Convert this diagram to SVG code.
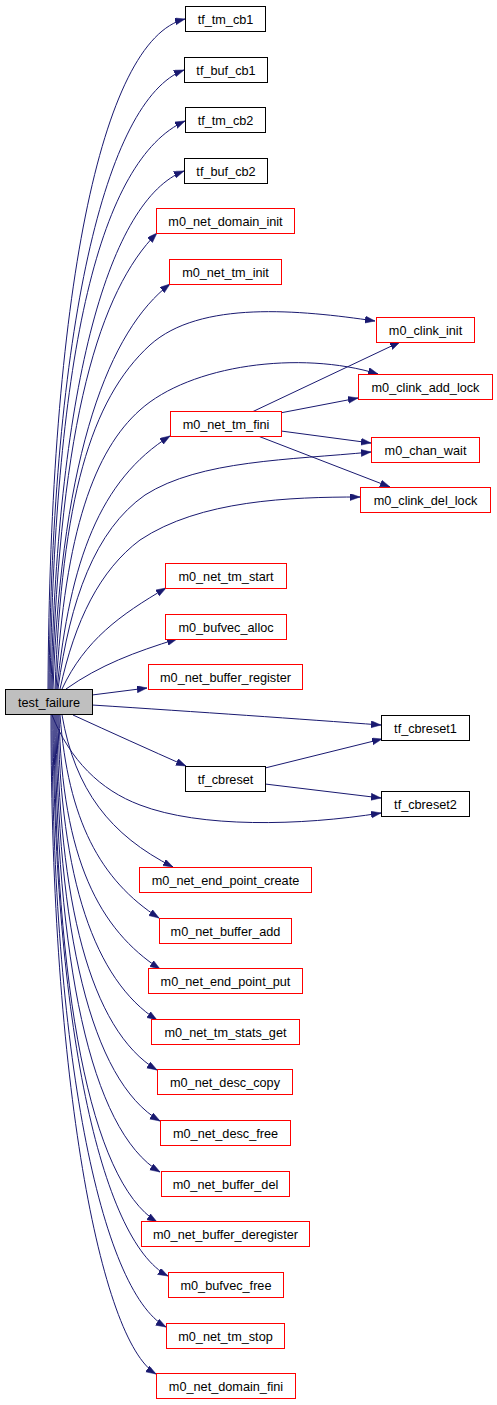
<svg xmlns="http://www.w3.org/2000/svg" width="497" height="1405" viewBox="0 0 497 1405">
<style>
.n rect{stroke-width:1}
.b rect{fill:#fff;stroke:#000}
.r rect{fill:#fff;stroke:#ff0000}
.g rect{fill:#bfbfbf;stroke:#000}
text{font-family:"Liberation Sans",Arial,sans-serif;font-size:12.7px;text-anchor:middle;fill:#000}
#edges path{fill:none;stroke:#191970;stroke-width:1;marker-end:url(#ah)}
</style>
<defs>
<marker id="ah" markerUnits="userSpaceOnUse" markerWidth="11" markerHeight="8" refX="10" refY="3.5" orient="auto">
<path d="M0,0 L10,3.5 L0,7 z" fill="#191970" stroke="#191970" stroke-width="0.5"/>
</marker>
</defs>
<rect width="497" height="1405" fill="#fff"/>
<g id="edges">
<path d="M48,689 C50,300 100,40 185,19"/>
<path d="M49,689 C52,330 105,100 184,70"/>
<path d="M50,689 C55,350 100,160 185,121"/>
<path d="M51,689 C58,380 110,200 184,171"/>
<path d="M52,689 C60,420 100,290 157,233"/>
<path d="M53,689 C62,450 110,330 170,284"/>
<path d="M55,689 C62,500 90,400 150,345 C200,300 300,310 375,321"/>
<path d="M56,689 C65,530 95,450 140,410 C190,365 300,350 378,374"/>
<path d="M57,689 C70,560 100,480 170,436"/>
<path d="M58,689 C70,600 95,530 145,495 C200,460 290,460 371,452"/>
<path d="M60,689 C75,620 100,570 140,540 C200,500 290,497 360,497"/>
<path d="M62,689 C85,640 120,615 166,588"/>
<path d="M66,689 C100,665 135,652 177,639"/>
<path d="M92,695 L147,688"/>
<path d="M92,705 C200,712 300,719 381,725"/>
<path d="M73,715 C110,732 150,750 186,766"/>
<path d="M52,715 C70,760 100,790 140,805 C200,828 300,826 381,813"/>
<path d="M62,715 C75,790 110,835 173,867"/>
<path d="M60,715 C68,820 100,880 159,918"/>
<path d="M59,715 C62,860 100,930 160,969"/>
<path d="M58,715 C60,880 95,980 157,1020"/>
<path d="M57,715 C58,900 90,1030 157,1070"/>
<path d="M56,715 C57,930 90,1080 160,1121"/>
<path d="M55,715 C56,960 90,1130 160,1172"/>
<path d="M54,715 C55,990 90,1180 157,1222"/>
<path d="M53,715 C54,1020 100,1240 168,1276"/>
<path d="M52,715 C52,1050 100,1290 166,1327"/>
<path d="M51,715 C51,1080 100,1340 156,1374"/>
<path d="M252,412 L400,342"/>
<path d="M280,413 L358,398"/>
<path d="M281,431 L371,443"/>
<path d="M258,436 L390,487"/>
<path d="M265,768 L382,739"/>
<path d="M265,784 L381,798"/>
</g>
<g id="tf_tm_cb1" class="n b"><rect x="185.5" y="6.5" width="80" height="25"/><text x="225.5" y="23.5">tf_tm_cb1</text></g>
<g id="tf_buf_cb1" class="n b"><rect x="184.5" y="57.5" width="83" height="25"/><text x="226" y="74.5">tf_buf_cb1</text></g>
<g id="tf_tm_cb2" class="n b"><rect x="185.5" y="107.5" width="80" height="25"/><text x="225.5" y="124.5">tf_tm_cb2</text></g>
<g id="tf_buf_cb2" class="n b"><rect x="184.5" y="158.5" width="83" height="25"/><text x="226" y="175.5">tf_buf_cb2</text></g>
<g id="m0_net_domain_init" class="n r"><rect x="156.5" y="208.5" width="138" height="25"/><text x="225.5" y="225.5">m0_net_domain_init</text></g>
<g id="m0_net_tm_init" class="n r"><rect x="169.5" y="259.5" width="112" height="25"/><text x="225.5" y="276.5">m0_net_tm_init</text></g>
<g id="m0_clink_init" class="n r"><rect x="376.5" y="317.5" width="98" height="25"/><text x="425.5" y="334.5">m0_clink_init</text></g>
<g id="m0_clink_add_lock" class="n r"><rect x="358.5" y="374.5" width="134" height="25"/><text x="425.5" y="391.5">m0_clink_add_lock</text></g>
<g id="m0_net_tm_fini" class="n r"><rect x="170.5" y="411.5" width="111" height="25"/><text x="226" y="428.5">m0_net_tm_fini</text></g>
<g id="m0_chan_wait" class="n r"><rect x="371.5" y="437.5" width="108" height="25"/><text x="425.5" y="454.5">m0_chan_wait</text></g>
<g id="m0_clink_del_lock" class="n r"><rect x="360.5" y="487.5" width="130" height="25"/><text x="425.5" y="504.5">m0_clink_del_lock</text></g>
<g id="m0_net_tm_start" class="n r"><rect x="165.5" y="563.5" width="121" height="25"/><text x="226" y="580.5">m0_net_tm_start</text></g>
<g id="m0_bufvec_alloc" class="n r"><rect x="165.5" y="614.5" width="121" height="25"/><text x="226" y="631.5">m0_bufvec_alloc</text></g>
<g id="m0_net_buffer_register" class="n r"><rect x="148.5" y="664.5" width="154" height="25"/><text x="225.5" y="681.5">m0_net_buffer_register</text></g>
<g id="test_failure" class="n g"><rect x="5.5" y="689.5" width="87" height="25"/><text x="49" y="706.5">test_failure</text></g>
<g id="tf_cbreset1" class="n b"><rect x="381.5" y="715.5" width="88" height="25"/><text x="425.5" y="732.5">tf_cbreset1</text></g>
<g id="tf_cbreset" class="n b"><rect x="185.5" y="766.5" width="80" height="25"/><text x="225.5" y="783.5">tf_cbreset</text></g>
<g id="tf_cbreset2" class="n b"><rect x="381.5" y="791.5" width="88" height="25"/><text x="425.5" y="808.5">tf_cbreset2</text></g>
<g id="m0_net_end_point_create" class="n r"><rect x="139.5" y="867.5" width="172" height="25"/><text x="225.5" y="884.5">m0_net_end_point_create</text></g>
<g id="m0_net_buffer_add" class="n r"><rect x="159.5" y="918.5" width="132" height="25"/><text x="225.5" y="935.5">m0_net_buffer_add</text></g>
<g id="m0_net_end_point_put" class="n r"><rect x="148.5" y="968.5" width="154" height="25"/><text x="225.5" y="985.5">m0_net_end_point_put</text></g>
<g id="m0_net_tm_stats_get" class="n r"><rect x="151.5" y="1019.5" width="148" height="25"/><text x="225.5" y="1036.5">m0_net_tm_stats_get</text></g>
<g id="m0_net_desc_copy" class="n r"><rect x="157.5" y="1069.5" width="135" height="25"/><text x="225" y="1086.5">m0_net_desc_copy</text></g>
<g id="m0_net_desc_free" class="n r"><rect x="160.5" y="1120.5" width="130" height="25"/><text x="225.5" y="1137.5">m0_net_desc_free</text></g>
<g id="m0_net_buffer_del" class="n r"><rect x="161.5" y="1171.5" width="128" height="25"/><text x="225.5" y="1188.5">m0_net_buffer_del</text></g>
<g id="m0_net_buffer_deregister" class="n r"><rect x="141.5" y="1221.5" width="168" height="25"/><text x="225.5" y="1238.5">m0_net_buffer_deregister</text></g>
<g id="m0_bufvec_free" class="n r"><rect x="168.5" y="1272.5" width="115" height="25"/><text x="226" y="1289.5">m0_bufvec_free</text></g>
<g id="m0_net_tm_stop" class="n r"><rect x="166.5" y="1323.5" width="118" height="25"/><text x="225.5" y="1340.5">m0_net_tm_stop</text></g>
<g id="m0_net_domain_fini" class="n r"><rect x="156.5" y="1373.5" width="139" height="25"/><text x="226" y="1390.5">m0_net_domain_fini</text></g>
</svg>
